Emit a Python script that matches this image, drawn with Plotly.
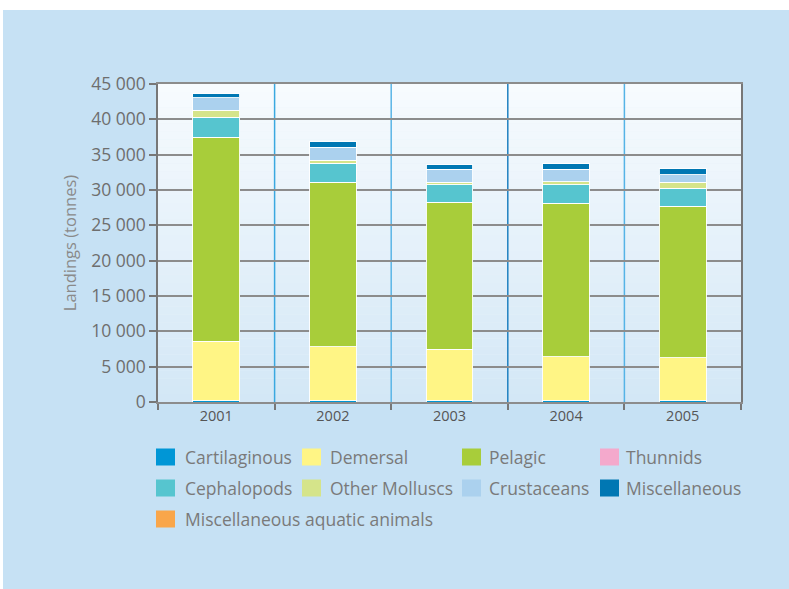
import plotly.graph_objects as go

years = ["2001", "2002", "2003", "2004", "2005"]
series_names = ["Cartilaginous", "Demersal", "Pelagic", "Thunnids", "Cephalopods",
                "Other Molluscs", "Crustaceans", "Miscellaneous", "Miscellaneous aquatic animals"]
cartilaginous = [200, 200, 200, 200, 200]
demersal = [8430, 7630, 7260, 6170, 6030]
pelagic = [28830, 23260, 20840, 21790, 21460]
thunnids = [0, 0, 0, 0, 0]
cephalopods = [2870, 2690, 2450, 2590, 2590]
other_molluscs = [950, 460, 380, 420, 850]
crustaceans = [1740, 1840, 1840, 1800, 1040]
miscellaneous = [660, 810, 660, 750, 900]
misc_aquatic = [0, 0, 0, 0, 0]
y_ticks = [0, 5000, 10000, 15000, 20000, 25000, 30000, 35000, 40000, 45000]

series_values = [cartilaginous, demersal, pelagic, thunnids, cephalopods,
                 other_molluscs, crustaceans, miscellaneous, misc_aquatic]
colors = ["#0096d6", "#fff585", "#a8cd3a", "#f4a9cc", "#56c5cf",
          "#d5e48a", "#abd1ee", "#0077b3", "#f9a64a"]

W, H = 789, 589
# plot area in pixel coordinates
L, R, T, B = 158, 741, 84, 402


def px_x(p):
    return (p - L) / (R - L)


def px_y(p):
    return (B - p) / (B - T)


FONT = "Open Sans"
fig = go.Figure()
for name, vals, col in zip(series_names, series_values, colors):
    fig.add_trace(go.Bar(x=years, y=vals, name=name, marker_color=col,
                         marker_line_color="rgba(255,255,255,0.9)", marker_line_width=1,
                         width=0.4, showlegend=False))

shapes = []
# white strips at the top and left of the panel
shapes.append(dict(type="rect", xref="paper", yref="paper", x0=px_x(-5), x1=px_x(W + 5),
                   y0=px_y(10), y1=px_y(-5), fillcolor="white", line_width=0, layer="below"))
shapes.append(dict(type="rect", xref="paper", yref="paper", x0=px_x(-5), x1=px_x(3),
                   y0=px_y(H + 5), y1=px_y(-5), fillcolor="white", line_width=0, layer="below"))

# plot-area gradient
N = 40
top = (247, 251, 254)
bot = (211, 231, 246)
for i in range(N):
    f = (i + 0.5) / N
    c = tuple(int(round(bot[k] + (top[k] - bot[k]) * f)) for k in range(3))
    shapes.append(dict(type="rect", xref="paper", yref="paper", x0=0, x1=1,
                       y0=i / N, y1=(i + 1) / N, fillcolor="rgb(%d,%d,%d)" % c,
                       line_width=0, layer="below"))

# category divider lines
div_colors = ["#3aa8e0", "#5ab5e6", "#1f80c0", "#55b3e6"]
for i, dc in enumerate(div_colors):
    shapes.append(dict(type="line", xref="x", yref="paper", x0=i + 0.5, x1=i + 0.5,
                       y0=0, y1=1, line=dict(color=dc, width=1.5), layer="below"))

# custom legend
sw_x = [156, 302, 462, 600]
tx_x = [183, 328, 487, 624]
row_y = [457, 488, 519]
annotations = []
for idx, (name, col) in enumerate(zip(series_names, colors)):
    r, c = divmod(idx, 4)
    cy = row_y[r]
    shapes.append(dict(type="rect", xref="paper", yref="paper",
                       x0=px_x(sw_x[c]), x1=px_x(sw_x[c] + 19),
                       y0=px_y(cy + 8.5), y1=px_y(cy - 8.5),
                       fillcolor=col, line_width=0))
    annotations.append(dict(xref="paper", yref="paper", x=px_x(tx_x[c]), y=px_y(cy),
                            xanchor="left", yanchor="middle", showarrow=False,
                            text=name, font=dict(family=FONT, size=17.5, color="#7a7a7a")))

fig.update_layout(
    width=W, height=H,
    margin=dict(l=L, r=W - R, t=T, b=H - B, pad=0),
    barmode="stack",
    paper_bgcolor="#c6e1f4",
    plot_bgcolor="#e6f1fa",
    separators=". ",
    shapes=shapes,
    annotations=annotations,
    showlegend=False,
    font=dict(family=FONT, color="#6e6e6e"),
)
fig.update_xaxes(
    type="category", showgrid=False, tickson="boundaries", ticks="outside",
    ticklen=6, tickcolor="#777777", tickwidth=1.5,
    showline=True, linecolor="#8c8c8c", linewidth=1.5, mirror=True,
    tickfont=dict(family=FONT, size=14.5, color="#555555"),
)
fig.update_yaxes(
    range=[0, 45000], tickvals=y_ticks, tickformat=",d",
    showgrid=True, gridcolor="#8c8c8c", gridwidth=1.5,
    ticks="outside", ticklen=7, tickcolor="#777777", tickwidth=1.5,
    showline=True, linecolor="#777777", linewidth=1.5, mirror=True,
    zeroline=False,
    tickfont=dict(family=FONT, size=17.5, color="#6e6e6e"),
    title=dict(text="Landings (tonnes)", standoff=10,
               font=dict(family=FONT, size=16.5, color="#8a8a8a")),
)

fig.write_html("out.html", config={"displayModeBar": False},
               post_script="document.body.style.margin='0';document.body.style.overflow='hidden';")
